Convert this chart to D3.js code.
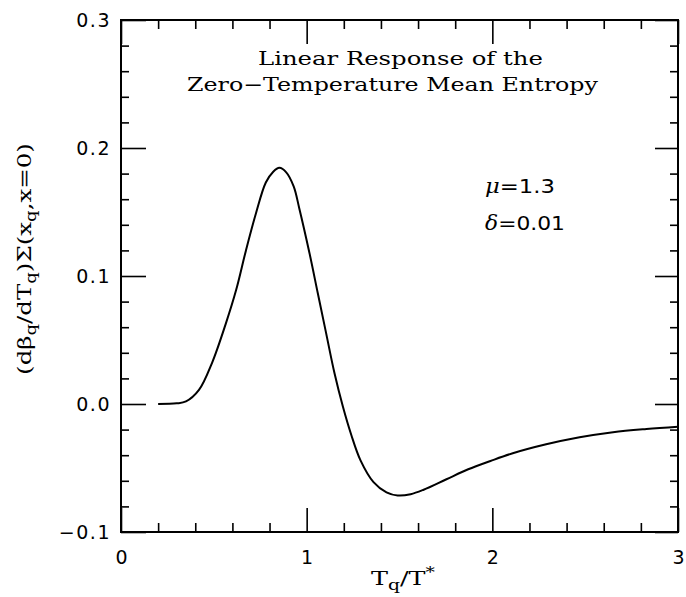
<!DOCTYPE html>
<html>
<head>
<meta charset="utf-8">
<script src="https://cdn.jsdelivr.net/npm/d3@7"></script>
<style>
  body { margin: 0; background: #fff; }
  .tick text { font-family: "DejaVu Sans", sans-serif; }
</style>
</head>
<body>
<div class="canvas"></div>
<script>
// curve
const tq = [0.2, 0.3, 0.35, 0.42, 0.49, 0.565, 0.62, 0.673, 0.727, 0.78, 0.82, 0.853, 0.89, 0.93, 0.96,
  1.015, 1.06, 1.105, 1.15, 1.195, 1.24, 1.29, 1.36, 1.43, 1.49, 1.56, 1.63, 1.75, 1.87, 1.99,
  2.11, 2.29, 2.47, 2.65, 2.83, 3.0]
const response = [0, 0.0005, 0.002, 0.011, 0.032, 0.063, 0.089, 0.12, 0.149, 0.173, 0.1815, 0.1845, 0.181, 0.17, 0.153,
  0.118, 0.0865, 0.0552, 0.024, -0.002, -0.024, -0.044, -0.061, -0.069, -0.0715, -0.0705, -0.067, -0.059, -0.051, -0.0445,
  -0.0385, -0.0315, -0.026, -0.022, -0.0195, -0.0177]

const xMajor = [0, 1, 2, 3]
const xMinor = d3.range(0.2, 3, 0.2).filter(v => Math.abs(v - Math.round(v)) > 0.01)
const yMajor = [-0.1, 0.0, 0.1, 0.2, 0.3]
const yMinor = d3.range(-0.08, 0.3, 0.02).filter(v => Math.abs(v * 10 - Math.round(v * 10)) > 0.01)

const titleLines = ['Linear Response of the', 'Zero\u2212Temperature Mean Entropy']

const svg = d3.select('.canvas').append('svg')
  .attr('width', 686)
  .attr('height', 597)

const margin = { top: 20, right: 8, bottom: 65, left: 121 }
const graphWidth = 686 - margin.left - margin.right
const graphHeight = 597 - margin.top - margin.bottom

const graph = svg.append('g')
  .attr('transform', `translate(${margin.left}, ${margin.top})`)

const x = d3.scaleLinear().domain([0, 3]).range([0, graphWidth])
const y = d3.scaleLinear().domain([-0.1, 0.3]).range([graphHeight, 0])

const fmtY = d => d3.format('.1f')(d).replace('-', '\u2212')

// ticks point inward on all four sides
const addAxis = (axis, transform) => {
  const g = graph.append('g').attr('transform', transform).call(axis)
  g.select('.domain').remove()
  g.selectAll('line').attr('stroke', '#000').attr('stroke-width', 1.6)
  return g
}

addAxis(d3.axisBottom(x).tickValues(xMinor).tickSize(-9).tickFormat(''), `translate(0,${graphHeight})`)
addAxis(d3.axisTop(x).tickValues(xMinor).tickSize(-9).tickFormat(''), 'translate(0,0)')
addAxis(d3.axisLeft(y).tickValues(yMinor).tickSize(-8).tickFormat(''), 'translate(0,0)')
addAxis(d3.axisRight(y).tickValues(yMinor).tickSize(-8).tickFormat(''), `translate(${graphWidth},0)`)

const xAxisG = addAxis(d3.axisBottom(x).tickValues(xMajor).tickSize(-24).tickPadding(19).tickFormat(d3.format('d')), `translate(0,${graphHeight})`)
addAxis(d3.axisTop(x).tickValues(xMajor).tickSize(-24).tickFormat(''), 'translate(0,0)')
const yAxisG = addAxis(d3.axisLeft(y).tickValues(yMajor).tickSize(-25).tickPadding(10).tickFormat(fmtY), 'translate(0,0)')
addAxis(d3.axisRight(y).tickValues(yMajor).tickSize(-23).tickFormat(''), `translate(${graphWidth},0)`)

xAxisG.selectAll('text')
  .attr('font-size', 19)
  .attr('dy', '0.71em')
yAxisG.selectAll('text')
  .attr('font-size', 19)
  .attr('letter-spacing', 1.5)
  .attr('dy', '0.36em')

graph.append('rect')
  .attr('width', graphWidth)
  .attr('height', graphHeight)
  .attr('fill', 'none')
  .attr('stroke', '#000')
  .attr('stroke-width', 2)

const line = d3.line()
  .x(d => x(d[0]))
  .y(d => y(d[1]))
  .curve(d3.curveCatmullRom.alpha(0.5))

graph.append('path')
  .datum(d3.zip(tq, response))
  .attr('d', line)
  .attr('fill', 'none')
  .attr('stroke', '#000')
  .attr('stroke-width', 2)

// stretch a text along its run so it spans the same width as the reference
const fitWidth = (t, width, base) => {
  const w = t.node().getComputedTextLength()
  t.attr('transform', `${base} scale(${width / w},1)`)
}

// title
const serif = '"DejaVu Serif", serif'
const t1 = svg.append('text')
  .attr('font-family', serif).attr('font-size', 19)
  .text(titleLines[0])
fitWidth(t1, 285, 'translate(258,65)')
const t2 = svg.append('text')
  .attr('font-family', serif).attr('font-size', 19)
  .text(titleLines[1])
fitWidth(t2, 411, 'translate(187,91)')

// parameters
const params = [['\u03bc', '=1.3', 193, 70], ['\u03b4', '=0.01', 230, 80]]
params.forEach(([sym, val, yy, w]) => {
  const t = svg.append('text')
    .attr('font-family', '"DejaVu Sans", sans-serif').attr('font-size', 20)
  t.append('tspan').attr('font-family', serif).attr('font-style', 'italic').text(sym)
  t.append('tspan').text(val)
  fitWidth(t, w, `translate(485,${yy})`)
})

// axis titles with subscripts
const addParts = (t, parts) => {
  parts.forEach(([s, kind]) => {
    const sp = t.append('tspan').text(s)
    if (kind === 'sub') sp.attr('font-size', 14).attr('dy', 5)
    else if (kind === 'sup') sp.attr('font-size', 14).attr('dy', -8)
    else if (kind === 'back') sp.attr('dy', -5)
  })
}

const xTitle = svg.append('text')
  .attr('text-anchor', 'middle')
  .attr('font-family', serif).attr('font-size', 19)
addParts(xTitle, [['T'], ['q', 'sub'], ['/T', 'back'], ['*', 'sup']])
fitWidth(xTitle, 64, 'translate(403,585)')

const yTitle = svg.append('text')
  .attr('text-anchor', 'middle')
  .attr('font-family', serif).attr('font-size', 19)
addParts(yTitle, [['(d\u03b2'], ['q', 'sub'], ['/dT', 'back'], ['q', 'sub'], [')\u03a3(x', 'back'], ['q', 'sub'], [',x=0)', 'back']])
fitWidth(yTitle, 232, 'translate(31,259) rotate(-90)')
</script>
</body>
</html>
